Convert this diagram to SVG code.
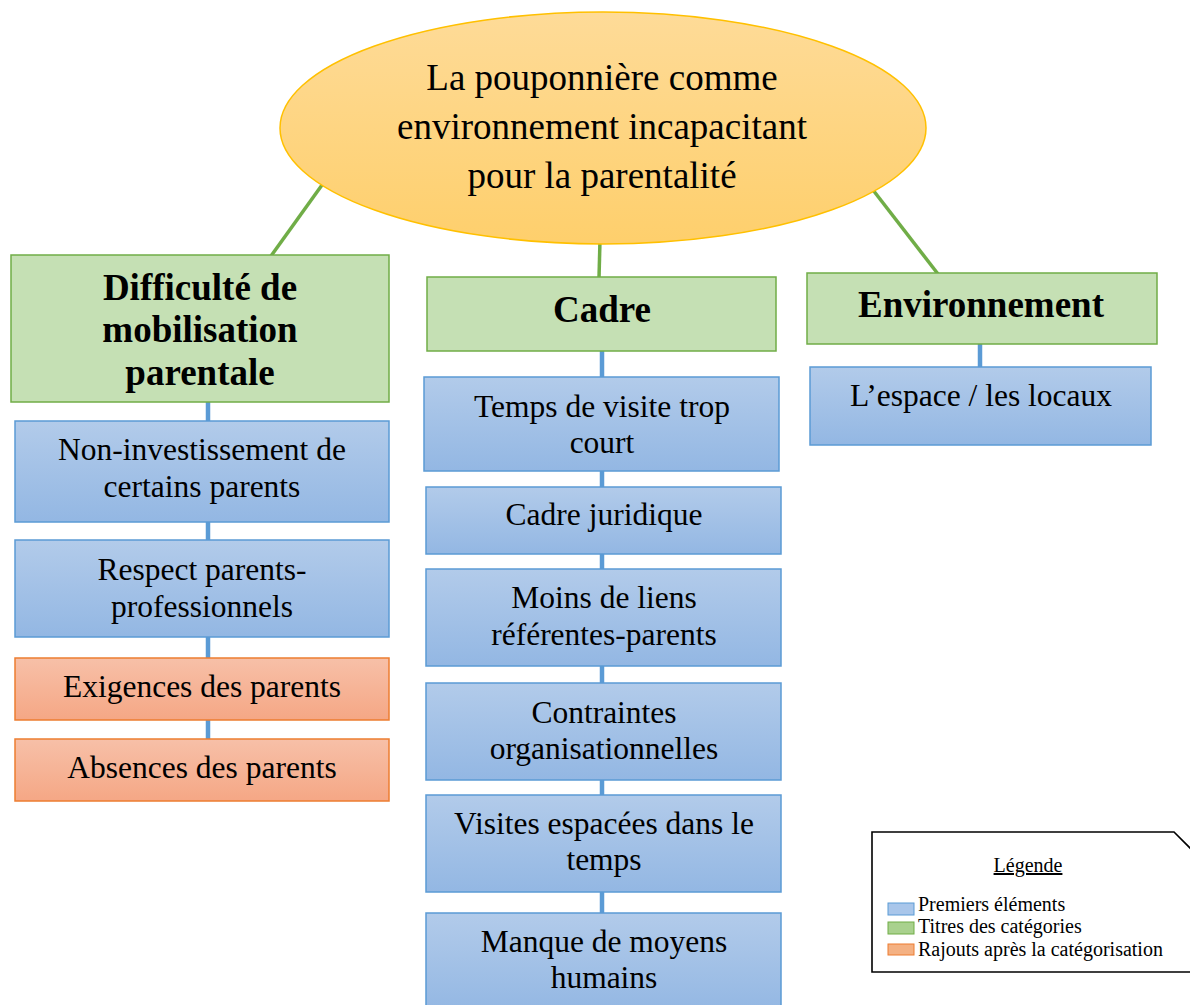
<svg xmlns="http://www.w3.org/2000/svg" width="1190" height="1005" viewBox="0 0 1190 1005">
<defs>
<linearGradient id="gBlue" x1="0" y1="0" x2="0" y2="1"><stop offset="0" stop-color="#b2cbea"/><stop offset="1" stop-color="#93b7e3"/></linearGradient>
<linearGradient id="gOrange" x1="0" y1="0" x2="0" y2="1"><stop offset="0" stop-color="#f7c0a8"/><stop offset="1" stop-color="#f5a785"/></linearGradient>
<linearGradient id="gYellow" x1="0" y1="0" x2="0" y2="1"><stop offset="0" stop-color="#fedb98"/><stop offset="1" stop-color="#fecf6c"/></linearGradient>
</defs>
<style>
.blue{fill:url(#gBlue);stroke:#5b9bd5;stroke-width:1.5}
.orange{fill:url(#gOrange);stroke:#ed7d31;stroke-width:1.5}
.green{fill:#c5e0b4;stroke:#70ad47;stroke-width:1.5}
.t{font-family:"Liberation Serif","Times New Roman",serif;font-size:31.5px;fill:#000;text-anchor:middle}
.h{font-family:"Liberation Serif","Times New Roman",serif;font-size:37px;font-weight:bold;fill:#000;text-anchor:middle}
.e{font-family:"Liberation Serif","Times New Roman",serif;font-size:37px;fill:#000;text-anchor:middle}
.l{font-family:"Liberation Serif","Times New Roman",serif;font-size:20px;fill:#000}
.cg{stroke:#70ad47;stroke-width:3.5;fill:none}
.cb{stroke:#5b9bd5;stroke-width:4.5;fill:none}
</style>
<rect width="1190" height="1005" fill="#fff"/>
<g id="connectors">
<line class="cg" x1="322" y1="185" x2="271" y2="256"/>
<line class="cg" x1="600" y1="240" x2="599" y2="278"/>
<line class="cg" x1="873" y1="190" x2="938" y2="274"/>
<line class="cb" x1="208" y1="402" x2="208" y2="740"/>
<line class="cb" x1="602" y1="351" x2="602" y2="914"/>
<line class="cb" x1="980" y1="344" x2="980" y2="368"/>
</g>
<g id="root">
<ellipse cx="603" cy="128" rx="323" ry="116" fill="url(#gYellow)" stroke="#ffc000" stroke-width="1.5"/>
<text class="e" x="602" y="90">La pouponnière comme</text>
<text class="e" x="602" y="139">environnement incapacitant</text>
<text class="e" x="602" y="188">pour la parentalité</text>
</g>
<g id="cat-difficulte">
<rect class="green" x="11" y="255" width="378" height="147"/>
<text class="h" x="200" y="300">Difficulté de</text>
<text class="h" x="200" y="342">mobilisation</text>
<text class="h" x="200" y="385">parentale</text>
</g>
<g id="cat-cadre">
<rect class="green" x="427" y="277" width="349" height="74"/>
<text class="h" x="602" y="322">Cadre</text>
</g>
<g id="cat-environnement">
<rect class="green" x="807" y="273" width="350" height="71"/>
<text class="h" x="981" y="317">Environnement</text>
</g>
<g id="n-noninvest">
<rect class="blue" x="15" y="421" width="374" height="101"/>
<text class="t" x="202" y="460">Non-investissement de</text>
<text class="t" x="202" y="497">certains parents</text>
</g>
<g id="n-respect">
<rect class="blue" x="15" y="540" width="374" height="97"/>
<text class="t" x="202" y="580">Respect parents-</text>
<text class="t" x="202" y="617">professionnels</text>
</g>
<g id="n-exigences">
<rect class="orange" x="15" y="658" width="374" height="62"/>
<text class="t" x="202" y="697">Exigences des parents</text>
</g>
<g id="n-absences">
<rect class="orange" x="15" y="739" width="374" height="62"/>
<text class="t" x="202" y="778">Absences des parents</text>
</g>
<g id="n-temps">
<rect class="blue" x="424" y="377" width="355" height="94"/>
<text class="t" x="602" y="417">Temps de visite trop</text>
<text class="t" x="602" y="453">court</text>
</g>
<g id="n-juridique">
<rect class="blue" x="426" y="487" width="355" height="67"/>
<text class="t" x="604" y="525">Cadre juridique</text>
</g>
<g id="n-liens">
<rect class="blue" x="426" y="569" width="355" height="97"/>
<text class="t" x="604" y="608">Moins de liens</text>
<text class="t" x="604" y="645">référentes-parents</text>
</g>
<g id="n-contraintes">
<rect class="blue" x="426" y="683" width="355" height="97"/>
<text class="t" x="604" y="723">Contraintes</text>
<text class="t" x="604" y="759">organisationnelles</text>
</g>
<g id="n-visites">
<rect class="blue" x="426" y="795" width="355" height="97"/>
<text class="t" x="604" y="834">Visites espacées dans le</text>
<text class="t" x="604" y="870">temps</text>
</g>
<g id="n-moyens">
<rect class="blue" x="426" y="913" width="355" height="100"/>
<text class="t" x="604" y="952">Manque de moyens</text>
<text class="t" x="604" y="988">humains</text>
</g>
<g id="n-espace">
<rect class="blue" x="810" y="367" width="341" height="78"/>
<text class="t" x="981" y="406">L’espace / les locaux</text>
</g>
<g id="legend">
<path d="M872,972 L872,832 L1174,832 L1192,850 L1192,972 Z" fill="#fff" stroke="#000" stroke-width="1.6"/>
<text class="l" x="1028" y="872" text-anchor="middle" text-decoration="underline">Légende</text>
<rect x="888" y="903" width="26" height="12" fill="#a9c6ea" stroke="#5b9bd5" stroke-width="1"/>
<rect x="888" y="922" width="26" height="12" fill="#a9d18e" stroke="#70ad47" stroke-width="1"/>
<rect x="888" y="944" width="26" height="11" fill="#f4b183" stroke="#ed7d31" stroke-width="1"/>
<text class="l" x="918" y="911">Premiers éléments</text>
<text class="l" x="918" y="933">Titres des catégories</text>
<text class="l" x="918" y="956">Rajouts après la catégorisation</text>
</g>
</svg>
